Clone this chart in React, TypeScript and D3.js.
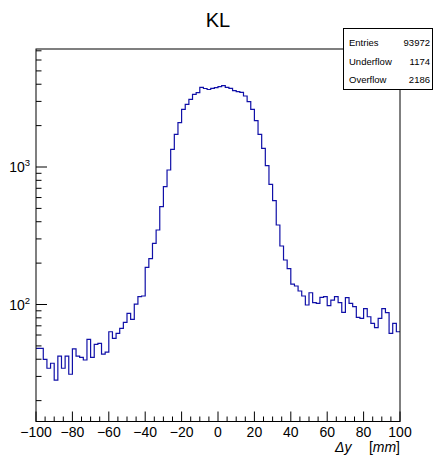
import React from "react";
import * as d3 from "d3";

const title = "KL";
const xMin = -100;
const xMax = 100;
const binWidth = 2;
const counts: number[] = [
  48, 48, 39.9, 34.4, 37.4, 28.2, 42.2, 34.4, 42.2, 31.1,
  47.5, 42.2, 41.3, 39.5, 55.8, 41.3, 51.3, 52.2, 43.6, 45.1,
  63.4, 56.8, 61.7, 67.1, 74.2, 86.3, 78.1, 100.8, 114.3, 115.3,
  186.4, 215.4, 278.7, 348.3, 514.3, 719.1, 951, 1345, 1729, 2100,
  2628, 2858, 3108, 3379, 3471, 3800, 3724, 3662, 3736, 3774,
  3837, 3902, 3800, 3736, 3588, 3528, 3493, 3284, 2985, 2628,
  2171, 1729, 1368, 1022, 748, 569, 378.6, 266.4, 210.7, 182.1,
  140.5, 136.3, 125.4, 115.3, 99.2, 121.8, 103.1, 102.0, 112.8, 114.0,
  98.0, 107.8, 114.0, 103.1, 87.8, 112.1, 102.0, 96.4, 80.7, 79.4,
  93.2, 81.5, 73.0, 67.8, 79.4, 93.2, 87.2, 61.7, 73.0, 63.4,
];
const xTickLabels = [-100, -80, -60, -40, -20, 0, 20, 40, 60, 80, 100];
const yDecades = [100, 1000];
const yDecadeExp = ["2", "3"];
const statsLabels = ["Entries", "Underflow", "Overflow"];
const statsValues = ["93972", "1174", "2186"];

const W = 433;
const H = 458;
const fL = 36, fR = 400, fT = 49, fB = 421.5;
const font = "'Liberation Sans', Arial, Helvetica, sans-serif";

export default function App() {
  const x = d3.scaleLinear().domain([xMin, xMax]).range([fL, fR]);
  const y = d3.scaleLog().domain([14.1, 7215]).range([fB, fT]);

  const pts: [number, number][] = counts.map((c, i) => [xMin + i * binWidth, c]);
  pts.push([xMin + counts.length * binWidth, counts[counts.length - 1]]);
  const line = d3
    .line<[number, number]>()
    .x((d) => x(d[0]))
    .y((d) => y(d[1]))
    .curve(d3.curveStepAfter);

  const minorX: number[] = d3.range(xMin, xMax + 0.001, 5).filter((v) => v % 20 !== 0);
  const [yLo, yHi] = y.domain();
  const minorY: number[] = [];
  for (const dec of [10, 100, 1000]) {
    for (let k = 2; k <= 9; k++) {
      const v = dec * k;
      if (v >= yLo && v <= yHi) minorY.push(v);
    }
  }

  const boxX = 343.5, boxY = 28.5, boxW = 89, boxH = 61;
  const rowY = [45.5, 64.5, 83];

  return (
    <svg
      width={W}
      height={H}
      style={{ position: "absolute", left: 0, top: 0, background: "#fff" }}
      fontFamily={font}
    >
      <rect x={0} y={0} width={W} height={H} fill="#fff" />
      <text x={218} y={26.5} fontSize={20} textAnchor="middle" fill="#000">
        {title}
      </text>
      {/* histogram */}
      <path d={line(pts) || ""} fill="none" stroke="#1010a8" strokeWidth={1.2} />
      {/* frame */}
      <rect x={fL} y={fT} width={fR - fL} height={fB - fT} fill="none" stroke="#000" strokeWidth={1} />
      {/* x ticks */}
      {xTickLabels.map((v) => (
        <line key={"xm" + v} x1={x(v)} x2={x(v)} y1={fB} y2={fB - 10} stroke="#000" />
      ))}
      {minorX.map((v) => (
        <line key={"xn" + v} x1={x(v)} x2={x(v)} y1={fB} y2={fB - 5} stroke="#000" />
      ))}
      {xTickLabels.map((v) => (
        <text key={"xl" + v} x={x(v)} y={437} fontSize={14} textAnchor="middle" fill="#000">
          {v < 0 ? "\u2212" + Math.abs(v) : String(v)}
        </text>
      ))}
      <text x={335} y={452} fontSize={14} textAnchor="start" fill="#000" fontStyle="italic">
        {"\u0394y"}
      </text>
      <text x={fR} y={452} fontSize={14} textAnchor="end" fill="#000">
        <tspan>[</tspan>
        <tspan fontStyle="italic">mm</tspan>
        <tspan>]</tspan>
      </text>
      {/* y ticks */}
      {yDecades.map((v) => (
        <line key={"ym" + v} x1={fL} x2={fL + 11} y1={y(v)} y2={y(v)} stroke="#000" />
      ))}
      {minorY.map((v) => (
        <line key={"yn" + v} x1={fL} x2={fL + 5.5} y1={y(v)} y2={y(v)} stroke="#000" />
      ))}
      {yDecades.map((v, i) => (
        <text key={"yl" + v} x={30} y={y(v) + 5} fontSize={14} textAnchor="end" fill="#000">
          <tspan>10</tspan>
          <tspan fontSize={9.5} dy={-6}>
            {yDecadeExp[i]}
          </tspan>
        </text>
      ))}
      {/* stats box */}
      <rect x={boxX} y={boxY} width={boxW} height={boxH} fill="#fff" stroke="#000" strokeWidth={1} />
      {statsLabels.map((s, i) => (
        <g key={s}>
          <text x={349} y={rowY[i]} fontSize={9.5} fill="#000">
            {s}
          </text>
          <text x={430} y={rowY[i]} fontSize={9.5} textAnchor="end" fill="#000">
            {statsValues[i]}
          </text>
        </g>
      ))}
    </svg>
  );
}
